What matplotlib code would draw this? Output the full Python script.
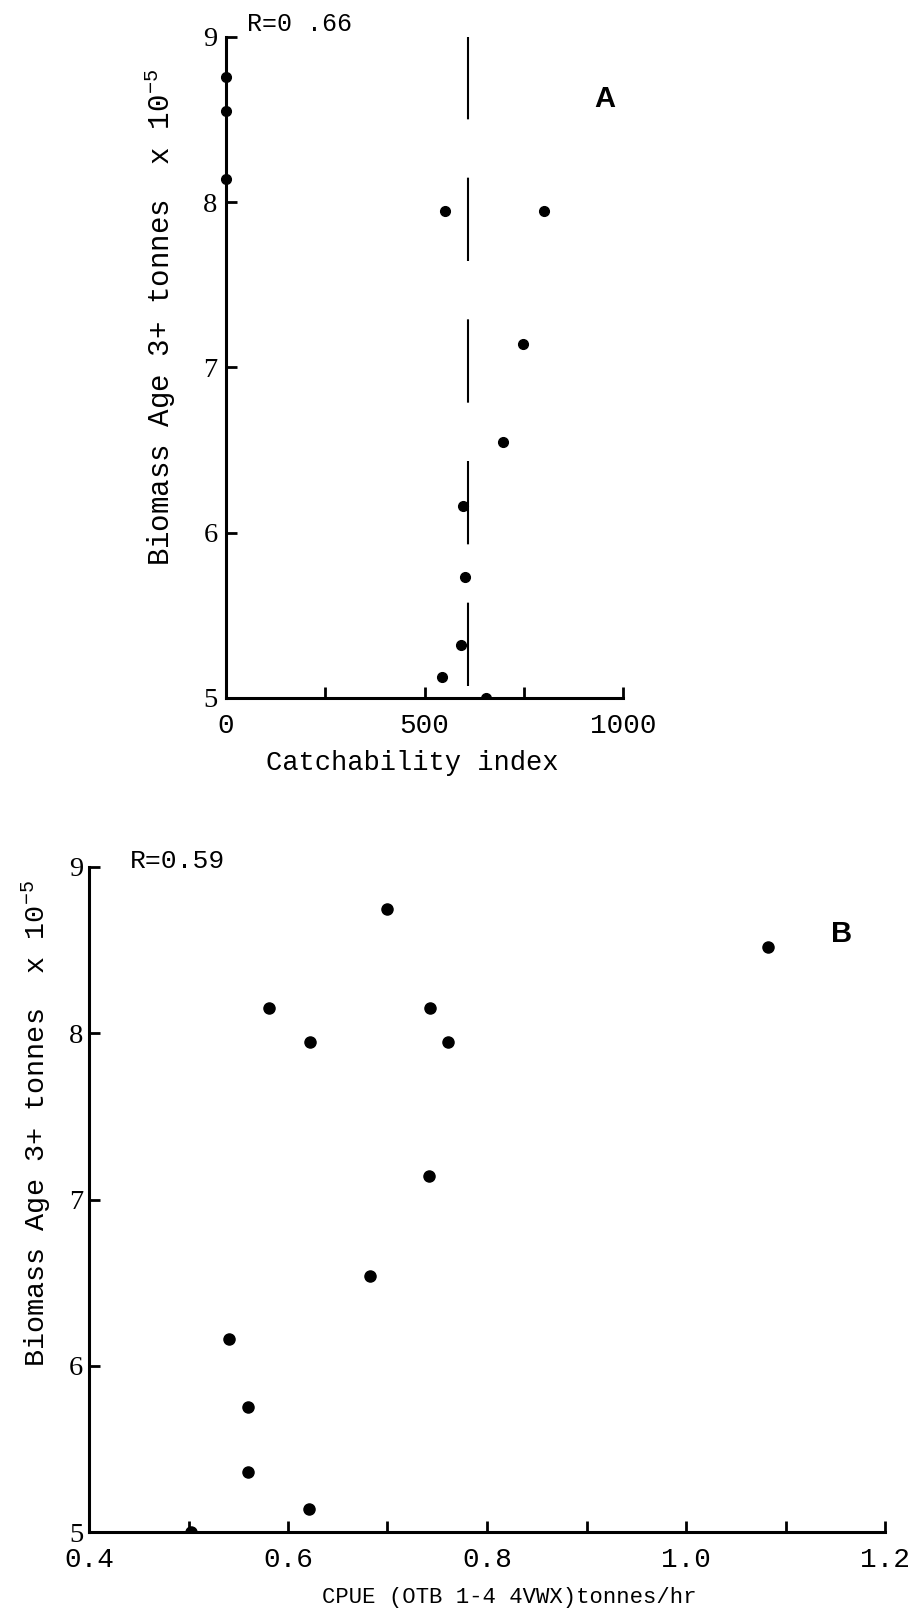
import matplotlib
matplotlib.use("Agg")
import matplotlib.pyplot as plt
from matplotlib.patches import Rectangle

# ---------------------------------------------------------------- data
# panel A: catchability index vs biomass (age 3+, x 1e-5 tonnes)
catch_idx = [0, 0, 0, 551, 801, 748, 698, 596, 601, 591, 545, 655]
biomass_a = [8.76, 8.55, 8.14, 7.95, 7.95, 7.14, 6.55, 6.16, 5.73, 5.32, 5.13, 5.0]
mean_catch = 610                  # dashed vertical reference line
mean_span = [5.07, 9.0]
r_a = "R=0 .66"

# panel B: CPUE (OTB 1-4 4VWX) vs biomass
cpue = [0.70, 1.082, 0.581, 0.622, 0.743, 0.761, 0.742, 0.682, 0.541, 0.560, 0.560, 0.621, 0.503]
biomass_b = [8.75, 8.52, 8.15, 7.95, 8.15, 7.95, 7.14, 6.54, 6.16, 5.75, 5.36, 5.14, 5.0]
r_b = "R=0.59"

a_xmajor = [0, 500, 1000]
a_xminor = [250, 750]
b_xmajor = [0.4, 0.6, 0.8, 1.0, 1.2]
b_xminor = [0.5, 0.7, 0.9, 1.1]
yticks = [5, 6, 7, 8, 9]

ylab = "Biomass Age 3+ tonnes  x 10$^{-5}$"

MONO = "Liberation Mono"
SERIF = "Liberation Serif"
plt.rcParams["mathtext.default"] = "regular"

W, H = 908, 1612
fig = plt.figure(figsize=(W / 100, H / 100), dpi=100)
axA = fig.add_axes([226 / W, 1 - 698 / H, 397 / W, 661 / H])
axB = fig.add_axes([89 / W, 1 - 1532 / H, 796 / W, 665 / H])


def style(ax, xmaj, xmin, xfmt, xlim, ypad):
    ax.set_xlim(*xlim); ax.set_ylim(5, 9)
    for s in ("top", "right"):
        ax.spines[s].set_visible(False)
    for s in ("left", "bottom"):
        ax.spines[s].set_linewidth(2.2)
    ax.set_xticks(xmaj); ax.set_xticks(xmin, minor=True)
    ax.set_xticklabels([xfmt(v) for v in xmaj])
    ax.set_yticks(yticks); ax.set_yticklabels([str(v) for v in yticks])
    ax.tick_params(axis="both", which="both", direction="in", length=8, width=2)
    ax.tick_params(axis="x", pad=11, labelsize=20)
    ax.tick_params(axis="y", pad=ypad, labelsize=20.5)
    for t in ax.get_xticklabels():
        t.set_fontfamily(MONO)
    for t in ax.get_yticklabels():
        t.set_fontfamily(SERIF)


def dots(ax, x, y, ms):
    pts, = ax.plot(x, y, "o", color="black", ms=ms, zorder=3)
    # clip only below the x axis so points on the y axis stay whole
    box = Rectangle((-0.1, 0), 1.2, 1.2, transform=ax.transAxes)
    pts.set_clip_path(box)


# ---------------------------------------------------------------- panel A
style(axA, a_xmajor, a_xminor, lambda v: str(v), (0, 1000), 6)
dots(axA, catch_idx, biomass_a, 7)
axA.plot([mean_catch, mean_catch], mean_span, color="black", lw=1.5,
         linestyle=(0, (40, 28)))
axA.set_xlabel("Catchability index", fontfamily=MONO, fontsize=19.5, va="center")
axA.xaxis.set_label_coords(0.468, -0.098)
axA.set_ylabel(ylab, fontfamily=MONO, fontsize=21, va="center")
axA.yaxis.set_label_coords(-0.166, 0.576)
axA.text(0.053, 1.02, r_a, transform=axA.transAxes, fontfamily=MONO,
         fontsize=18, va="center", ha="left")
axA.text(0.955, 0.906, "A", transform=axA.transAxes, fontfamily="Liberation Sans",
         fontweight="bold", fontsize=21, va="center", ha="center")

# ---------------------------------------------------------------- panel B
style(axB, b_xmajor, b_xminor, lambda v: f"{v:.1f}", (0.4, 1.2), 4)
dots(axB, cpue, biomass_b, 8)
axB.set_xlabel("CPUE (OTB 1-4 4VWX)tonnes/hr", fontfamily=MONO, fontsize=16,
               va="center")
axB.xaxis.set_label_coords(0.528, -0.099)
axB.set_ylabel(ylab, fontfamily=MONO, fontsize=20.5, va="center")
axB.yaxis.set_label_coords(-0.0666, 0.614)
axB.text(0.0515, 1.009, r_b, transform=axB.transAxes, fontfamily=MONO,
         fontsize=19, va="center", ha="left")
axB.text(0.946, 0.9, "B", transform=axB.transAxes, fontfamily="Liberation Sans",
         fontweight="bold", fontsize=21, va="center", ha="center")

fig.savefig("out.png", dpi=100, facecolor="white")
